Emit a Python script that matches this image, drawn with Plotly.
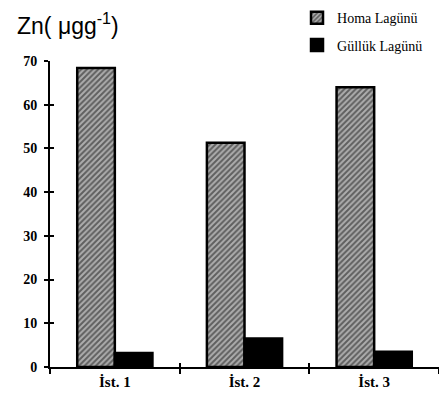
import plotly.graph_objects as go

categories = ["İst. 1", "İst. 2", "İst. 3"]
homa = [68.4, 51.3, 64.0]
gulluk = [3.2, 6.5, 3.5]
series_names = ["Homa Lagünü", "Güllük Lagünü"]
y_ticks = [0, 10, 20, 30, 40, 50, 60, 70]

fig = go.Figure()
fig.add_trace(go.Bar(
    x=categories, y=homa, name=series_names[0], legendgroup="a",
    marker=dict(color="white",
                pattern=dict(shape="/", fgcolor="#111", bgcolor="#adadad", size=4, solidity=0.5),
                line=dict(color="black", width=2.5)),
))
fig.add_trace(go.Bar(
    x=categories, y=gulluk, name=series_names[1], legendgroup="b",
    marker=dict(color="black", line=dict(color="black", width=2.5)),
))
# invisible helper trace for the inner tick marks (crossing ticks)
fig.add_trace(go.Scatter(x=[0], y=[0], xaxis="x2", yaxis="y2", mode="markers",
                         marker=dict(opacity=0), showlegend=False, hoverinfo="skip"))

fig.update_layout(
    width=439, height=401,
    margin=dict(l=50, r=0, t=61, b=34, autoexpand=False),
    paper_bgcolor="white", plot_bgcolor="white",
    barmode="group", bargap=0.42, bargroupgap=0,
    font=dict(family="Liberation Serif", color="black"),
    xaxis=dict(type="category", range=[-0.5, 2.5], showline=True, linecolor="black", linewidth=2,
               ticks="outside", tickson="boundaries", ticklen=5, tickwidth=1.5, tickcolor="black",
               showgrid=False, zeroline=False,
               tickfont=dict(family="Liberation Serif", size=15, color="black", weight="bold")),
    yaxis=dict(range=[0, 70], tickvals=y_ticks, showline=True, linecolor="black", linewidth=2,
               ticks="outside", ticklen=4, tickwidth=1.5, tickcolor="black",
               showgrid=False, zeroline=False, ticklabelstandoff=4,
               tickfont=dict(family="Liberation Serif", size=14, color="black", weight="bold")),
    xaxis2=dict(overlaying="x", range=[-0.5, 2.5], tickvals=[0.5, 1.5], ticks="inside", ticklen=4,
                tickwidth=1.5, tickcolor="black", showticklabels=False, showgrid=False,
                zeroline=False, showline=False, side="bottom"),
    yaxis2=dict(overlaying="y", range=[0, 70], tickvals=y_ticks, ticks="inside", ticklen=4,
                tickwidth=1.5, tickcolor="black", showticklabels=False, showgrid=False,
                zeroline=False, showline=False, side="left"),
    legend=dict(x=0.635, xanchor="left", y=1.192, yanchor="top", traceorder="grouped",
                tracegroupgap=6, bgcolor="rgba(0,0,0,0)",
                font=dict(family="Liberation Serif", size=14, color="black")),
    showlegend=True,
)
fig.add_annotation(text="Zn( μgg<sup>-1</sup>)", xref="paper", yref="paper",
                   x=-0.09, y=1.12, xanchor="left", yanchor="middle", showarrow=False,
                   font=dict(family="Liberation Sans", size=23, color="black"))

fig.write_html("out.html", config={"displayModeBar": False},
               post_script="document.body.style.margin='0';")
